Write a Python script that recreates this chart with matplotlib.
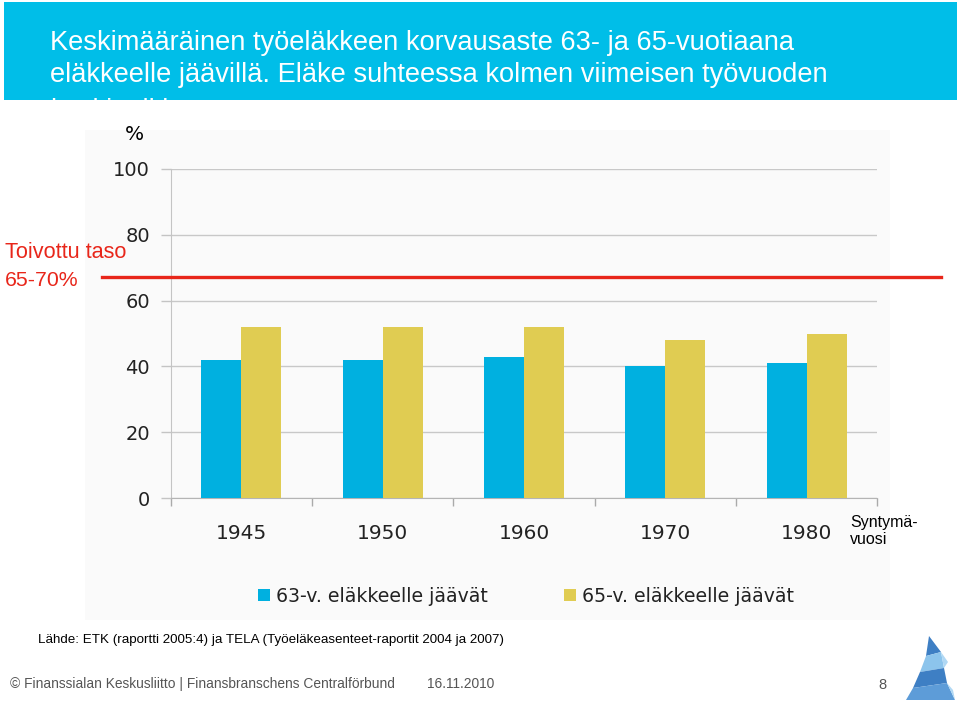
import matplotlib
matplotlib.use('Agg')
import matplotlib.pyplot as plt
import matplotlib.transforms as mtransforms
from matplotlib.patches import Rectangle, Polygon
import numpy as np

# data
years = ['1945', '1950', '1960', '1970', '1980']
retire_63 = [42, 42, 43, 40, 41]
retire_65 = [52, 52, 52, 48, 50]
target_level = 67.3
y_ticks = [0, 20, 40, 60, 80, 100]

title_lines = ['Keskimääräinen työeläkkeen korvausaste 63- ja 65-vuotiaana',
               'eläkkeelle jäävillä. Eläke suhteessa kolmen viimeisen työvuoden',
               'keskipalkkaan']

chartfont = ['DejaVu Sans']
arial = ['Liberation Sans', 'DejaVu Sans']

W, H = 960, 705
fig = plt.figure(figsize=(9.6, 7.05), dpi=100)
fig.patch.set_facecolor('white')

def fx(px):
    return px / W

def fy(py):
    return 1 - py / H

# header band
fig.patches.append(Rectangle((fx(4), fy(100)), fx(953), 98 / H, transform=fig.transFigure,
                             facecolor='#00BEE8', edgecolor='none', zorder=0))
# chart picture background
fig.patches.append(Rectangle((fx(85), fy(620)), fx(805), 490 / H, transform=fig.transFigure,
                             facecolor='#fafafa', edgecolor='none', zorder=0))

for i, line in enumerate(title_lines):
    base = [50, 81.5, 117.5][i]
    fig.text(fx(50), fy(base), line, color='white', fontsize=19.6,
             family=arial, va='baseline', ha='left', zorder=1)
# mask the third title line below the band
fig.patches.append(Rectangle((0, fy(128)), 1, 28 / H, transform=fig.transFigure,
                             facecolor='white', edgecolor='none', zorder=2))

ax = fig.add_axes([fx(170.7), fy(498), fx(706.6), 329 / H])
ax.set_zorder(5)
ax.set_facecolor('none')

x = np.arange(len(years))
w = 0.283
ax.bar(x - w / 2, retire_63, w, color='#00B0E0', label='63-v. eläkkeelle jäävät', zorder=3)
ax.bar(x + w / 2, retire_65, w, color='#E0CC52', label='65-v. eläkkeelle jäävät', zorder=3)

ax.set_xlim(-0.5, len(years) - 0.5)
ax.set_ylim(0, 100)
ax.set_yticks(y_ticks)
ax.set_yticklabels([str(v) for v in y_ticks], family=chartfont, fontsize=14, color='#222222')
ax.set_xticks(x)
ax.set_xticklabels(years, family=chartfont, fontsize=14.5, color='#222222')
ax.set_xticks(np.arange(-0.5, len(years)), minor=True)
ax.tick_params(axis='x', which='major', length=0, pad=19)
ax.tick_params(axis='x', which='minor', length=6, color='#aaaaaa', width=1)
ax.tick_params(axis='y', length=7, color='#c4c4c4', width=1, pad=8)
ax.yaxis.grid(True, color='#c8c8c8', linewidth=1, zorder=0)
ax.set_axisbelow(True)
for s in ['top', 'right']:
    ax.spines[s].set_visible(False)
ax.spines['left'].set_color('#c4c4c4')
ax.spines['bottom'].set_color('#b4b4b4')

# target level line spanning the slide
trans = mtransforms.blended_transform_factory(fig.transFigure, ax.transData)
ax.plot([fx(102), fx(941)], [target_level, target_level], color='#E8261A', lw=2.4,
        transform=trans, clip_on=False, zorder=4)
fig.text(fx(5), fy(252), 'Toivottu taso', color='#E8261A', fontsize=15.6, family=arial, va='center')
fig.text(fx(5), fy(280), '65-70%', color='#E8261A', fontsize=15.3, family=arial, va='center')

fig.text(fx(125), fy(134), '%', fontsize=14.5, family=chartfont, color='black', va='center',
         fontweight='medium')
fig.text(fx(850), fy(531), 'Syntymä-\nvuosi', fontsize=11.5, family=arial, color='black',
         va='center', linespacing=1.25)

ax.legend(loc='center', bbox_to_anchor=(fx(526), fy(596)), bbox_transform=fig.transFigure,
          ncol=2, frameon=False, handlelength=0.65, handleheight=0.65, handletextpad=0.32,
          columnspacing=4.0, prop={'family': chartfont, 'size': 13.6}, labelcolor='#222222')

fig.text(fx(38), fy(640), 'Lähde: ETK (raportti 2005:4) ja TELA (Työeläkeasenteet-raportit 2004 ja 2007)',
         fontsize=9.6, family=arial, color='black', va='center')
fig.text(fx(10), fy(684), '© Finanssialan Keskusliitto | Finansbranschens Centralförbund',
         fontsize=9.9, family=arial, color='#555555', va='center')
fig.text(fx(427), fy(684), '16.11.2010', fontsize=9.9, family=arial, color='#555555', va='center')
fig.text(fx(878), fy(685), '8', fontsize=10.5, family=arial, color='#555555', va='center')

# logo: striped pyramid
def px_poly(pts, color):
    fig.patches.append(Polygon([(fx(a), fy(b)) for a, b in pts], closed=True,
                               transform=fig.transFigure, facecolor=color, edgecolor='none'))

px_poly([(929, 636), (941, 652), (926, 656)], '#3E7FC4')
px_poly([(926, 656), (941, 652), (944, 668), (920, 672)], '#8CC4EC')
px_poly([(920, 672), (944, 668), (947, 683), (913, 688)], '#3E7FC4')
px_poly([(913, 688), (947, 683), (955, 700), (906, 700)], '#5D9CD8')
px_poly([(941, 652), (948, 662), (944, 668)], '#B0D8F4')
px_poly([(947, 683), (953, 690), (955, 700)], '#B0D8F4')

fig.savefig('out.png', dpi=100)
